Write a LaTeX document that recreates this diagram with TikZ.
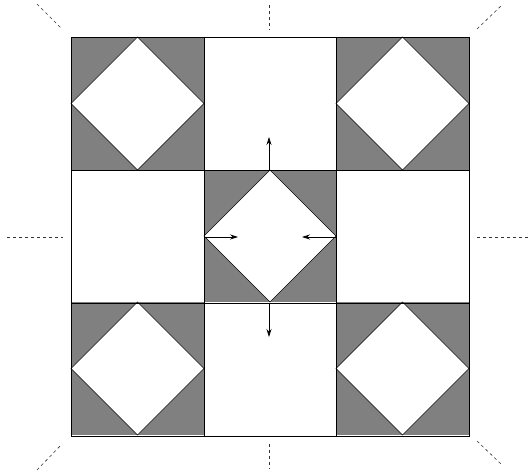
\documentclass[tikz,border=0pt]{standalone}
\usetikzlibrary{arrows.meta}
\begin{document}
\begin{tikzpicture}[x=1pt,y=-1pt,
  cellline/.style={draw=black,line width=0.8pt},
  dashln/.style={draw=black!80,line width=0.6pt,dash pattern=on 3pt off 3pt},
  arr/.style={draw=black,line width=0.7pt,-{Stealth[length=8pt,width=5pt]}}]
\useasboundingbox (0,0) rectangle (531,473);
\def\xs{{71,204,336,469}}
% shaded cells with white diamonds
\foreach \i/\j in {0/0,2/0,1/1,0/2,2/2}{
  \pgfmathsetmacro{\xa}{\xs[\i]}\pgfmathsetmacro{\xb}{\xs[\i+1]}
  \pgfmathsetmacro{\ya}{\xs[\j]-34}\pgfmathsetmacro{\yb}{\xs[\j+1]-34}
  \pgfmathsetmacro{\xm}{(\xa+\xb)/2}\pgfmathsetmacro{\ym}{(\ya+\yb)/2}
  \fill[gray] (\xa,\ya) rectangle (\xb,\yb);
  \filldraw[fill=white,draw=black,line width=0.6pt] (\xm,\ya) -- (\xb,\ym) -- (\xm,\yb) -- (\xa,\ym) -- cycle;
}
% grid
\draw[cellline] (71,37) rectangle (469,436);
\draw[cellline] (204,37) -- (204,436) (336,37) -- (336,436);
\draw[cellline] (71,170) -- (469,170) (71,303) -- (469,303);
% center diamond vertices
\coordinate (dt) at (269,170);
\coordinate (db) at (269,303);
\coordinate (dl) at (204,237);
\coordinate (dr) at (336,237);
\coordinate (at) at (269,137);
\coordinate (ab) at (269,337);
\coordinate (al) at (238,237);
\coordinate (ar) at (302,237);
\draw[arr] (dt) -- (at);
\draw[arr] (db) -- (ab);
\draw[arr] (dl) -- (al);
\draw[arr] (dr) -- (ar);
% dashed guide lines
\coordinate (t1) at (269,5); \coordinate (t2) at (269,30);
\coordinate (b1) at (269,444); \coordinate (b2) at (269,469);
\coordinate (l1) at (7,237); \coordinate (l2) at (63,237);
\coordinate (r1) at (477,237); \coordinate (r2) at (530,237);
\coordinate (tl1) at (37,4); \coordinate (tl2) at (62,29);
\coordinate (tr1) at (477,29); \coordinate (tr2) at (502,5);
\coordinate (bl1) at (37,470); \coordinate (bl2) at (62,444);
\coordinate (br1) at (477,441); \coordinate (br2) at (501,464);
\foreach \p/\q in {t1/t2,b1/b2,l1/l2,r1/r2,tl1/tl2,tr1/tr2,bl1/bl2,br1/br2}
  \draw[dashln] (\p) -- (\q);
\end{tikzpicture}
\end{document}
